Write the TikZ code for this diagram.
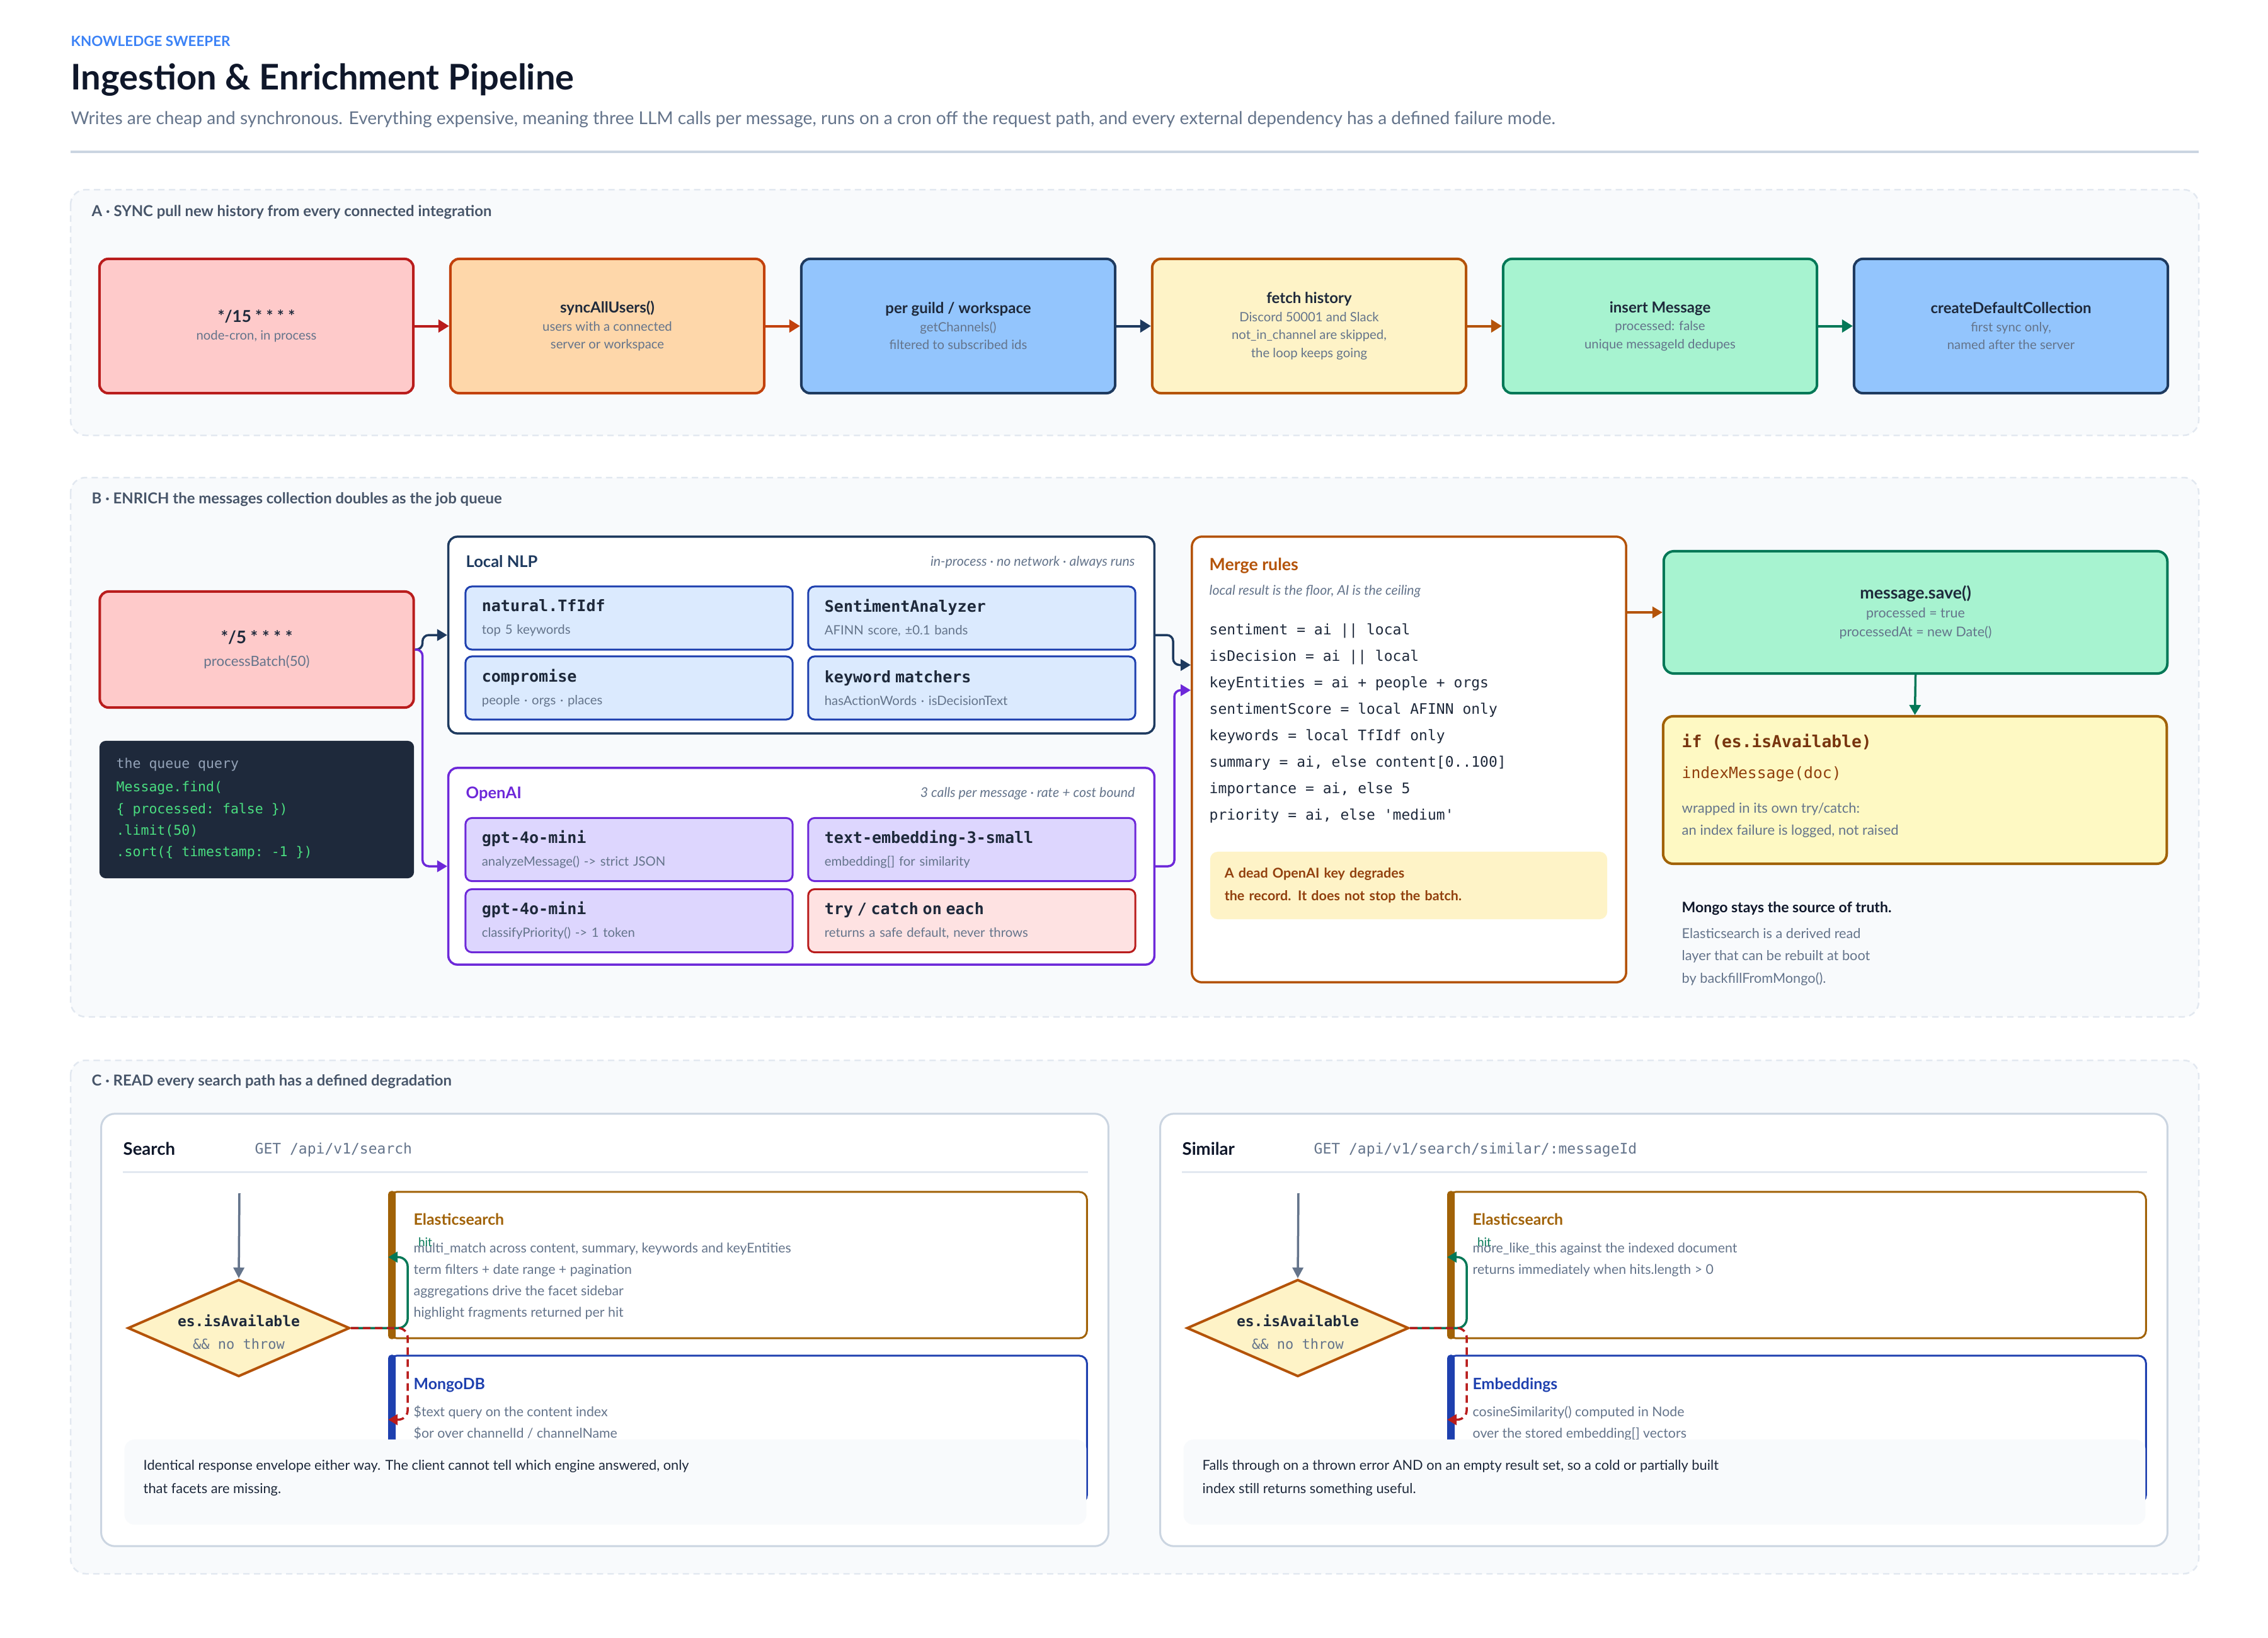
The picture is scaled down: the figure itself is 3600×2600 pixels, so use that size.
\documentclass[tikz,border=0pt]{standalone}
\usepackage{fontspec}
\setmainfont{Lato}
\setmonofont{DejaVu Sans Mono}
\usetikzlibrary{arrows.meta,shapes.geometric,calc}

\definecolor{dark}{HTML}{0F172A}
\definecolor{ink}{HTML}{1E293B}
\definecolor{muted}{HTML}{64748B}
\definecolor{slate}{HTML}{475569}
\definecolor{tagblue}{HTML}{3B82F6}
\definecolor{rulec}{HTML}{CBD5E1}
\definecolor{panelB}{HTML}{E2E8F0}
\definecolor{panelF}{HTML}{F8FAFC}
\definecolor{redF}{HTML}{FECACA}
\definecolor{redB}{HTML}{B91C1C}
\definecolor{orF}{HTML}{FED7AA}
\definecolor{orB}{HTML}{C2410C}
\definecolor{bluF}{HTML}{93C5FD}
\definecolor{navy}{HTML}{1E3A5F}
\definecolor{ambF}{HTML}{FEF3C7}
\definecolor{ambB}{HTML}{B45309}
\definecolor{grnF}{HTML}{A7F3D0}
\definecolor{grnB}{HTML}{047857}
\definecolor{lblue}{HTML}{DBEAFE}
\definecolor{blueB}{HTML}{1E40AF}
\definecolor{violF}{HTML}{DDD6FE}
\definecolor{purp}{HTML}{6D28D9}
\definecolor{pinkF}{HTML}{FEE2E2}
\definecolor{yelF}{HTML}{FEF9C3}
\definecolor{esc}{HTML}{A16207}
\definecolor{brown}{HTML}{78350F}
\definecolor{brown2}{HTML}{92400E}
\definecolor{codebg}{HTML}{1E293B}
\definecolor{codegreen}{HTML}{4ADE80}
\definecolor{codegray}{HTML}{94A3B8}

\newcommand\pxs[2]{\pgfmathsetmacro\pxsA{#1*0.28453}\pgfmathsetmacro\pxsB{#2*0.28453}\fontsize{\pxsA pt}{\pxsB pt}\selectfont}
\newcommand\atl[1]{{\pxs{24}{28.5}\bfseries\color{ink}#1}}
\newcommand\itl[1]{{\pxs{25}{36}\ttfamily\bfseries\color{ink}#1}}

\tikzset{
  panel/.style={draw=panelB, fill=panelF, line width=0.025cm, dash pattern=on 0.1cm off 0.07cm, rounded corners=0.24cm},
  seclbl/.style={anchor=base west, inner sep=0, font=\pxs{23.9}{28}\bfseries, text=slate},
  lbl/.style={anchor=base west, inner sep=0},
  abox/.style 2 args={draw=#1, fill=#2, line width=0.04cm, rounded corners=0.14cm, minimum width=4.98cm, minimum height=2.13cm, align=center, inner sep=0, font=\pxs{20.3}{28.5}, text=muted},
  aarr/.style={draw=#1, line width=0.04cm, -{Triangle[length=0.17cm,width=0.2cm]}},
  barr/.style={draw=#1, line width=0.035cm, rounded corners=0.1cm, -{Triangle[length=0.16cm,width=0.18cm]}},
  cont/.style={draw=#1, fill=white, line width=0.035cm, rounded corners=0.14cm, minimum width=11.2cm, minimum height=3.12cm, inner sep=0},
  ctitle/.style={anchor=base west, inner sep=0, font=\pxs{25.5}{28}\bfseries, text=#1},
  cnote/.style={anchor=base east, inner sep=0, font=\pxs{21.3}{24}\itshape, text=muted},
  ibox/.style 2 args={draw=#1, fill=#2, line width=0.03cm, rounded corners=0.1cm, minimum width=5.19cm, minimum height=1.0cm, text width=4.67cm, inner xsep=0.26cm, inner ysep=0, align=left, font=\pxs{20.3}{36}, text=muted},
  codet/.style={anchor=base west, inner sep=0, font=\pxs{21.5}{30}\ttfamily, text=codegreen},
  mrule/.style={anchor=base west, inner sep=0, font=\pxs{23}{30}\ttfamily, text=ink},
  graytxt/.style={anchor=base west, inner sep=0, font=\pxs{22}{30}, text=muted},
  card/.style={draw=rulec, fill=white, line width=0.03cm, rounded corners=0.22cm, minimum width=15.98cm, minimum height=6.86cm, inner sep=0},
  sepline/.style={draw=panelB, line width=0.03cm},
  dia/.style={diamond, draw=ambB, fill=ambF, line width=0.04cm, minimum width=3.52cm, minimum height=1.54cm, inner sep=0},
  ebox/.style={draw=#1, fill=white, line width=0.03cm, rounded corners=0.12cm, minimum width=11.07cm, minimum height=2.32cm, inner sep=0},
  etitle/.style={anchor=base west, inner sep=0, font=\pxs{24.8}{28}\bfseries, text=#1},
  eline/.style={anchor=base west, inner sep=0, font=\pxs{21.3}{26}, text=muted},
  notebox/.style={fill=panelF, rounded corners=0.16cm, minimum width=15.26cm, minimum height=1.35cm, inner sep=0},
  ntext/.style={anchor=base west, inner sep=0, font=\pxs{21.8}{26}, text=ink},
  garr/.style={draw=muted, line width=0.035cm, -{Triangle[length=0.17cm,width=0.17cm]}},
  hitarr/.style={draw=grnB, line width=0.035cm, rounded corners=0.15cm, -{Triangle[length=0.15cm,width=0.17cm]}},
  fallarr/.style={draw=redB, line width=0.035cm, rounded corners=0.15cm, dash pattern=on 0.12cm off 0.07cm, -{Triangle[length=0.15cm,width=0.17cm]}},
}

\newcommand\readcard[8]{%
\begin{scope}[xshift=#2cm]
  \node[card] (#1card) at (960,2111) {};
  \node[lbl, font=\pxs{27.5}{30}\bfseries, text=dark] (#1t) at (195,1833) {#3};
  \node[lbl, font=\pxs{23}{30}\ttfamily, text=muted] (#1get) at (404,1831) {#4};
  \draw[sepline] (195,1860) -- (1727,1860);
  \coordinate (#1start) at (380,1894);
  \node[dia] (#1dia) at (379,2108) {};
  \draw[garr] (#1start) -- (#1dia.north);
  \node[inner sep=0, font=\pxs{23}{28}\ttfamily\bfseries, text=ink] (#1dt1) at (379,2096) {es.isAvailable};
  \node[inner sep=0, font=\pxs{22}{28}\ttfamily, text=muted] (#1dt2) at (379,2133) {\&\& no throw};
  \node[ebox=esc] (#1es) at (1171.5,2008) {};
  \fill[esc, rounded corners=0.05cm] (#1es.north west) rectangle ($(#1es.south west)+(12,0)$);
  \node[etitle=esc] (#1est) at (656,1944) {Elasticsearch};
  \foreach \t [count=\i] in {#5} \node[eline] (#1esl\i) at (656,{1988.5+34*(\i-1)}) {\t};
  \node[ebox=blueB, minimum height=2.33cm] (#1mg) at (1171.5,2268.5) {};
  \fill[blueB, rounded corners=0.05cm] (#1mg.north west) rectangle ($(#1mg.south west)+(12,0)$);
  \node[etitle=blueB] (#1mgt) at (656,2205) {#6};
  \foreach \t [count=\i] in {#7} \node[eline] (#1mgl\i) at (656,{2248.5+34*(\i-1)}) {\t};
  \node[notebox] (#1note) at (961,2352.5) {};
  \foreach \t [count=\i] in {#8} \node[ntext] (#1ntl\i) at (227,{2333.5+37*(\i-1)}) {\t};
  \coordinate (#1hitin) at ($(#1es.north west)+(0,105)$);
  \coordinate (#1fallin) at ($(#1mg.north west)+(0,103)$);
  \draw[hitarr] (#1dia.east) -- ++(90,0) |- (#1hitin);
  \draw[fallarr] (#1dia.east) -- ++(90,0) |- (#1fallin);
  \node[inner sep=0, font=\pxs{19}{22}, text=grnB] (#1hit) at (675,1972) {hit};
\end{scope}}

\begin{document}
\begin{tikzpicture}[x=0.01cm,y=-0.01cm]
\useasboundingbox (0,0) rectangle (3600,2600);
\fill[white] (0,0) rectangle (3600,2600);

% header
\node[lbl, font=\pxs{22.4}{28}\bfseries, text=tagblue] (tag) at (112,74) {KNOWLEDGE SWEEPER};
\node[lbl, font=\pxs{56}{60}\bfseries, text=dark] (title) at (112,143) {Ingestion \& Enrichment Pipeline};
\node[lbl, font=\pxs{28.1}{32}, text=muted] (subtitle) at (112,198) {Writes are cheap and synchronous. Everything expensive, meaning three LLM calls per message, runs on a cron off the request path, and every external dependency has a defined failure mode.};
\draw[rulec, line width=0.03cm] (112,241) -- (3490,241);

% ---------- section A
\draw[panel] (112,301) rectangle (3490,691);
\node[seclbl] (secA) at (145,343.5) {A · SYNC pull new history from every connected integration};
\node[abox={redB}{redF}] (a1) at (407,517.5) {{\pxs{26}{28.5}\bfseries\color{ink}*/15 * * * *}\\node-cron, in process};
\node[abox={orB}{orF}] (a2) at (964,517.5) {\atl{syncAllUsers()}\\users with a connected\\server or workspace};
\node[abox={navy}{bluF}] (a3) at (1521,517.5) {\atl{per guild / workspace}\\getChannels()\\filtered to subscribed ids};
\node[abox={ambB}{ambF}] (a4) at (2078,517.5) {\atl{fetch history}\\Discord 50001 and Slack\\not\_in\_channel are skipped,\\the loop keeps going};
\node[abox={grnB}{grnF}] (a5) at (2635,517.5) {\atl{insert Message}\\processed: false\\unique messageId dedupes};
\node[abox={navy}{bluF}] (a6) at (3192,517.5) {\atl{createDefaultCollection}\\first sync only,\\named after the server};
\draw[aarr=redB] (a1) -- (a2);
\draw[aarr=orB] (a2) -- (a3);
\draw[aarr=navy] (a3) -- (a4);
\draw[aarr=ambB] (a4) -- (a5);
\draw[aarr=grnB] (a5) -- (a6);

% ---------- section B
\draw[panel] (112,758) rectangle (3490,1614);
\node[seclbl] (secB) at (145,799) {B · ENRICH the messages collection doubles as the job queue};
\node[abox={redB}{redF}, minimum height=1.84cm, font=\pxs{22.3}{36}] (cron) at (407.5,1031) {{\pxs{27.5}{36}\bfseries\color{ink}*/5 * * * *}\\processBatch(50)};
\node[fill=codebg, rounded corners=0.1cm, minimum width=4.99cm, minimum height=2.18cm, inner sep=0] (codebox) at (407.5,1285) {};
\node[codet, text=codegray] (q1) at (184,1219) {the queue query};
\node[codet] (q2) at (184,1256) {Message.find(};
\node[codet] (q3) at (184,1291) {\{ processed: false \})};
\node[codet] (q4) at (184,1325) {.limit(50)};
\node[codet] (q5) at (184,1359) {.sort(\{ timestamp: -1 \})};

\node[cont=navy] (nlp) at (1272,1008) {};
\node[ctitle=navy] (nlpt) at (739,900) {Local NLP};
\node[cnote] (nlpn) at (1802,898) {in-process · no network · always runs};
\node[ibox={blueB}{lblue}] (n1) at (998.5,981) {\itl{natural.TfIdf}\\top 5 keywords};
\node[ibox={blueB}{lblue}] (n2) at (1542.5,981) {\itl{SentimentAnalyzer}\\AFINN score, ±0.1 bands};
\node[ibox={blueB}{lblue}] (n3) at (998.5,1092) {\itl{compromise}\\people · orgs · places};
\node[ibox={blueB}{lblue}] (n4) at (1542.5,1092) {\itl{keyword matchers}\\hasActionWords · isDecisionText};

\node[cont=purp] (oai) at (1272,1375) {};
\node[ctitle=purp] (oait) at (739,1267) {OpenAI};
\node[cnote] (oain) at (1802,1265) {3 calls per message · rate + cost bound};
\node[ibox={purp}{violF}] (o1) at (998.5,1348.5) {\itl{gpt-4o-mini}\\analyzeMessage() -> strict JSON};
\node[ibox={purp}{violF}] (o2) at (1542.5,1348.5) {\itl{text-embedding-3-small}\\embedding[] for similarity};
\node[ibox={purp}{violF}] (o3) at (998.5,1461.5) {\itl{gpt-4o-mini}\\classifyPriority() -> 1 token};
\node[ibox={redB}{pinkF}] (o4) at (1542.5,1461.5) {\itl{try / catch on each}\\returns a safe default, never throws};

\node[draw=ambB, fill=white, line width=0.035cm, rounded corners=0.16cm, minimum width=6.89cm, minimum height=7.07cm, inner sep=0] (merge) at (2236.5,1205.5) {};
\node[lbl, font=\pxs{26.7}{30}\bfseries, text=ambB] (mrt) at (1919,905) {Merge rules};
\node[lbl, font=\pxs{21.3}{24}\itshape, text=muted] (mrs) at (1919,944.5) {local result is the floor, AI is the ceiling};
\foreach \t [count=\i] in {sentiment = ai || local, isDecision = ai || local, keyEntities = ai + people + orgs, sentimentScore = local AFINN only, keywords = local TfIdf only, {summary = ai, else content[0..100]}, {importance = ai, else 5}, {priority = ai, else 'medium'}}
  \node[mrule] (mr\i) at (1919,{1007+42*(\i-1)}) {\t};
\node[fill=ambF, rounded corners=0.12cm, minimum width=6.30cm, minimum height=1.07cm, text width=5.84cm, inner xsep=0.23cm, inner ysep=0, align=left, font=\pxs{21.5}{36}\bfseries, text=brown2] (dead) at (2236,1405.5) {A dead OpenAI key degrades\\the record. It does not stop the batch.};

\node[draw=grnB, fill=grnF, line width=0.04cm, rounded corners=0.16cm, minimum width=7.99cm, minimum height=1.94cm, inner sep=0, align=center, font=\pxs{21.4}{30}, text=muted] (save) at (3040.5,972) {{\pxs{26.8}{30}\bfseries\color{ink}message.save()}\\processed = true\\processedAt = new Date()};
\node[draw=esc, fill=yelF, line width=0.04cm, rounded corners=0.16cm, minimum width=7.99cm, minimum height=2.34cm, inner sep=0] (ifb) at (3039.5,1254) {};
\node[lbl, font=\pxs{26.3}{30}\ttfamily\bfseries, text=brown] (ift1) at (2669,1186) {if (es.isAvailable)};
\node[lbl, font=\pxs{24.7}{30}\ttfamily, text=brown2] (ift2) at (2669,1235.5) {indexMessage(doc)};
\node[graytxt] (ift3) at (2669,1290) {wrapped in its own try/catch:};
\node[graytxt] (ift4) at (2669,1325) {an index failure is logged, not raised};
\node[lbl, font=\pxs{23}{26}\bfseries, text=dark] (truth) at (2669,1448) {Mongo stays the source of truth.};
\node[graytxt, font=\pxs{21.7}{28}] (tr1) at (2669,1489.5) {Elasticsearch is a derived read};
\node[graytxt, font=\pxs{21.7}{28}] (tr2) at (2669,1524.5) {layer that can be rebuilt at boot};
\node[graytxt, font=\pxs{21.7}{28}] (tr3) at (2669,1560.5) {by backfillFromMongo().};

\draw[barr=navy] (cron.east) -- ++(12,0) |- (nlp.west);
\draw[barr=purp] (cron.east) -- ++(12,0) |- (oai.west);
\draw[barr=navy] (nlp.east) -- ++(28,0) |- ($(merge.west)+(0,-150)$);
\draw[barr=purp] (oai.east) -- ++(30,0) |- ($(merge.west)+(0,-110)$);
\draw[barr=ambB, rounded corners=0] (merge.east |- save.west) -- (save.west);
\draw[barr=grnB, rounded corners=0] (save.south) -- (ifb.north);

% ---------- section C
\draw[panel] (112,1683) rectangle (3490,2498);
\node[seclbl] (secC) at (145,1723.5) {C · READ every search path has a defined degradation};

\readcard{s}{0}{Search}{GET /api/v1/search}%
 {{multi\_match across content, summary, keywords and keyEntities}, term filters + date range + pagination, aggregations drive the facet sidebar, highlight fragments returned per hit}%
 {MongoDB}{{\$text query on the content index}, {\$or over channelId / channelName}}%
 {{Identical response envelope either way. The client cannot tell which engine answered, only}, {that facets are missing.}}
\readcard{m}{16.8}{Similar}{GET /api/v1/search/similar/:messageId}%
 {{more\_like\_this against the indexed document}, {returns immediately when hits.length > 0}}%
 {Embeddings}{{cosineSimilarity() computed in Node}, {over the stored embedding[] vectors}}%
 {{Falls through on a thrown error AND on an empty result set, so a cold or partially built}, {index still returns something useful.}}
\end{tikzpicture}
\end{document}
